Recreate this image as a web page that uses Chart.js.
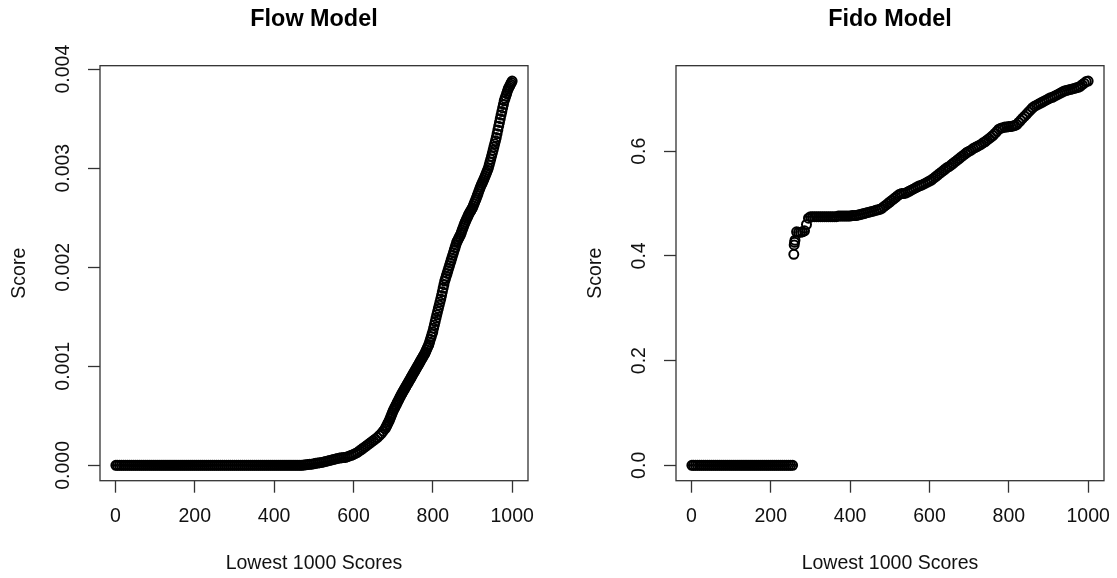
<!DOCTYPE html>
<html><head><meta charset="utf-8">
<script src="https://cdn.jsdelivr.net/npm/chart.js@4.4.1/dist/chart.umd.min.js"></script>
<style>
html,body{margin:0;padding:0;background:#fff;width:1117px;height:578px;overflow:hidden}
canvas{position:absolute;top:0}
#c1{left:0}
#c2{left:558px}
</style></head><body>
<canvas id="c1" width="558" height="578"></canvas>
<canvas id="c2" width="559" height="578"></canvas>
<script>
const flowRank = [
1,5,10,15,20,25,30,35,40,45,50,55,60,65,70,75,80,85,90,95,
100,105,110,115,120,125,130,135,140,145,150,155,160,165,170,175,180,185,190,195,
200,205,210,215,220,225,230,235,240,245,250,255,260,265,270,275,280,285,290,295,
300,305,310,315,320,325,330,335,340,345,350,355,360,365,370,375,380,385,390,395,
400,405,410,415,420,425,430,435,440,445,450,455,460,465,470,475,480,485,490,495,
500,505,510,515,520,525,530,535,540,545,550,555,560,565,570,575,580,585,590,595,
600,605,610,615,620,625,630,635,640,645,650,655,660,665,670,675,
680,682,684,686,688,690,692,694,696,698,700,702,704,706,708,710,712,714,716,718,
720,722,724,726,728,730,732,734,736,738,740,742,744,746,748,750,752,754,756,758,
760,762,764,766,768,770,772,774,776,778,780,782,784,786,788,790,792,794,796,798,
800,802,804,806,808,810,812,814,816,818,820,822,824,826,828,830,832,834,836,838,
840,842,844,846,848,850,852,854,856,858,860,862,864,866,868,870,872,874,876,878,
880,882,884,886,888,890,892,894,896,898,900,902,904,906,908,910,912,914,916,918,
920,922,924,926,928,930,932,934,936,938,940,942,944,946,948,950,952,954,956,958,
960,962,964,966,968,970,972,974,976,978,980,982,984,986,988,990,992,994,996,998,
1000];
const flowScore = [
0,0,0,0,0,0,0,0,0,0,0,0,0,0,0,0,0,0,0,0,
0,0,0,0,0,0,0,0,0,0,0,0,0,0,0,0,0,0,0,0,
0,0,0,0,0,0,0,0,0,0,0,0,0,0,0,0,0,0,0,0,
0,0,0,0,0,0,0,0,0,0,0,0,0,0,0,0,0,0,0,0,
0,0,0,0,0,0,0,0,0,0,0,0,0,0,0,0.000003,0.000005,0.000008,0.00001,0.000012,
0.000015,0.00002,0.000023,0.000027,0.00003,0.000035,0.00004,0.000045,0.00005,0.000055,0.00006,0.000065,0.00007,0.000073,0.000076,0.000078,0.00008,0.000087,0.000095,0.000102,
0.00011,0.00012,0.00013,0.000145,0.00016,0.000175,0.00019,0.000205,0.00022,0.000235,0.00025,0.000265,0.00028,0.0003,0.00032,0.000345,
0.00037,0.000386,0.000402,0.000418,0.000434,0.00045,0.00047,0.00049,0.00051,0.00053,0.00055,0.000566,0.000582,0.000598,0.000614,0.00063,0.000646,0.000662,0.000678,0.000694,
0.00071,0.000724,0.000738,0.000752,0.000766,0.00078,0.000794,0.000808,0.000822,0.000836,0.00085,0.000864,0.000878,0.000892,0.000906,0.00092,0.000934,0.000948,0.000962,0.000976,
0.00099,0.001004,0.001018,0.001032,0.001046,0.00106,0.001074,0.001088,0.001102,0.001116,0.00113,0.001148,0.001166,0.001184,0.001202,0.00122,0.001246,0.001272,0.001298,0.001324,
0.00135,0.001384,0.001418,0.001452,0.001486,0.00152,0.001552,0.001584,0.001616,0.001648,0.00168,0.001716,0.001752,0.001788,0.001824,0.00186,0.001886,0.001912,0.001938,0.001964,
0.00199,0.002016,0.002042,0.002068,0.002094,0.00212,0.002146,0.002172,0.002198,0.002224,0.00225,0.002266,0.002282,0.002298,0.002314,0.00233,0.002352,0.002374,0.002396,0.002418,
0.00244,0.002458,0.002476,0.002494,0.002512,0.00253,0.002544,0.002558,0.002572,0.002586,0.0026,0.00262,0.00264,0.00266,0.00268,0.0027,0.002722,0.002744,0.002766,0.002788,
0.00281,0.002828,0.002846,0.002864,0.002882,0.0029,0.00292,0.00294,0.00296,0.00298,0.003,0.00303,0.00306,0.00309,0.00312,0.00315,0.003182,0.003214,0.003246,0.003278,
0.00331,0.003348,0.003386,0.003424,0.003462,0.0035,0.003536,0.003572,0.003608,0.003644,0.00368,0.003704,0.003728,0.003752,0.003776,0.0038,0.003816,0.003832,0.003848,0.003864,
0.00388];
const fidoRank = [
1,5,10,15,20,25,30,35,40,45,50,55,60,65,70,75,80,85,90,95,
100,105,110,115,120,125,130,135,140,145,150,155,160,165,170,175,180,185,190,195,
200,205,210,215,220,225,230,235,240,245,250,255,258,259,260,261,265,270,275,280,285,290,295,
300,305,310,315,320,325,330,335,340,345,350,355,360,365,370,375,380,385,390,395,
400,405,410,415,420,425,430,435,440,445,450,455,460,465,470,475,480,485,490,495,
500,505,510,515,520,525,530,535,540,545,550,555,560,565,570,575,580,585,590,595,
600,605,610,615,620,625,630,635,640,645,650,655,660,665,670,675,680,685,690,695,
700,705,710,715,720,725,730,735,740,745,750,755,760,765,770,775,780,785,790,795,
800,805,810,815,820,825,830,835,840,845,850,855,860,865,870,875,880,885,890,895,
900,905,910,915,920,925,930,935,940,945,950,955,960,965,970,975,980,985,990,995,
1000];
const fidoScore = [
0,0,0,0,0,0,0,0,0,0,0,0,0,0,0,0,0,0,0,0,
0,0,0,0,0,0,0,0,0,0,0,0,0,0,0,0,0,0,0,0,
0,0,0,0,0,0,0,0,0,0,0,0,0.403,0.421,0.426,0.43,0.446,0.445,0.445,0.446,0.448,0.46,0.472,
0.475,0.475,0.475,0.475,0.475,0.475,0.475,0.475,0.475,0.475,0.475,0.475,0.475,0.475,0.476,0.476,0.476,0.476,0.476,0.476,
0.476,0.477,0.477,0.477,0.478,0.479,0.48,0.481,0.482,0.483,0.484,0.485,0.486,0.487,0.488,0.489,0.491,0.494,0.497,0.5,
0.503,0.506,0.509,0.512,0.515,0.518,0.519,0.519,0.52,0.522,0.524,0.526,0.528,0.53,0.532,0.534,0.535,0.537,0.539,0.541,
0.543,0.545,0.548,0.551,0.554,0.557,0.56,0.563,0.566,0.569,0.571,0.574,0.577,0.58,0.583,0.586,0.589,0.592,0.595,0.598,
0.6,0.602,0.605,0.607,0.609,0.611,0.613,0.616,0.618,0.621,0.624,0.627,0.63,0.634,0.638,0.642,0.644,0.645,0.646,0.646,
0.647,0.647,0.648,0.649,0.651,0.655,0.659,0.663,0.667,0.671,0.675,0.679,0.683,0.686,0.688,0.69,0.692,0.694,0.696,0.698,
0.7,0.702,0.703,0.705,0.707,0.709,0.711,0.713,0.715,0.716,0.717,0.718,0.719,0.72,0.721,0.722,0.724,0.727,0.73,0.733,
0.734];
const xTickValues = [0, 200, 400, 600, 800, 1000];
const flowYTickValues = [0, 0.001, 0.002, 0.003, 0.004];
const flowYTickLabels = ['0.000', '0.001', '0.002', '0.003', '0.004'];
const fidoYTickValues = [0, 0.2, 0.4, 0.6];
const fidoYTickLabels = ['0.0', '0.2', '0.4', '0.6'];
const panelTitles = ['Flow Model', 'Fido Model'];
const xAxisTitle = 'Lowest 1000 Scores';
const yAxisTitle = 'Score';

const FONT = "'Liberation Sans', Arial, Helvetica, sans-serif";
const INK = '#333';

const framePlugin = {
  id: 'frame',
  afterDraw(chart) {
    const {ctx, chartArea: a} = chart;
    ctx.save();
    ctx.strokeStyle = INK;
    ctx.lineWidth = 1.3;
    ctx.strokeRect(a.left, a.top, a.right - a.left, a.bottom - a.top);
    ctx.restore();
  }
};

function makeChart(id, rank, score, title, yMin, yMax, yVals, yLabels, cfg) {
  const pts = rank.map((r, i) => ({x: r, y: score[i]}));
  const gridOpts = {display: true, drawOnChartArea: false, drawTicks: true, tickLength: 12, tickColor: INK, tickWidth: 1.3};
  return new Chart(document.getElementById(id), {
    type: 'scatter',
    data: {datasets: [{data: pts, pointStyle: 'circle', pointRadius: 4.5, pointHoverRadius: 4.5,
      pointBorderWidth: 2, pointBorderColor: '#000', pointBackgroundColor: 'rgba(0,0,0,0)', showLine: false}]},
    options: {
      responsive: false, animation: false, devicePixelRatio: 1,
      layout: {padding: {left: 0, right: cfg.rightPad, top: 0, bottom: 0}},
      plugins: {
        legend: {display: false}, tooltip: {enabled: false},
        title: {display: true, text: title, fullSize: false, color: '#000',
          font: {family: FONT, size: 23.4, weight: 'bold', lineHeight: 1.2},
          padding: {top: 5.5, bottom: 32.1}}
      },
      scales: {
        x: {type: 'linear', position: 'bottom', min: -38.96, max: 1039.96,
          afterBuildTicks: s => { s.ticks = xTickValues.map(v => ({value: v})); },
          afterFit: s => { s.height = 97.3; s.paddingLeft = 0; s.paddingRight = 0; },
          grid: gridOpts, border: {display: false},
          ticks: {color: '#111', font: {family: FONT, size: 19.5}, padding: 12.6, maxRotation: 0, autoSkip: false,
            callback: v => String(v)},
          title: {display: true, text: xAxisTitle, color: '#111', font: {family: FONT, size: 19.5, lineHeight: 1.2},
            padding: {top: 0, bottom: 2.3}}
        },
        y: {type: 'linear', position: 'left', min: yMin, max: yMax,
          afterBuildTicks: s => { s.ticks = yVals.map(v => ({value: v})); },
          afterFit: s => { s.width = cfg.yWidth; s.paddingTop = 0; s.paddingBottom = 0; },
          grid: gridOpts, border: {display: false},
          ticks: {color: '#111', font: {family: FONT, size: 19.5}, padding: cfg.yPad, minRotation: 90, maxRotation: 90,
            crossAlign: 'center', autoSkip: false,
            callback: v => yLabels[yVals.indexOf(v)]},
          title: {display: true, text: yAxisTitle, color: '#111', font: {family: FONT, size: 19.5, lineHeight: 1.2},
            padding: {top: cfg.yTitlePad, bottom: 0}}
        }
      }
    },
    plugins: [framePlugin]
  });
}

makeChart('c1', flowRank, flowScore, panelTitles[0], -0.000155, 0.004035, flowYTickValues, flowYTickLabels,
  {rightPad: 30, yWidth: 100, yPad: 0.1, yTitlePad: 7.6});
makeChart('c2', fidoRank, fidoScore, panelTitles[1], -0.02936, 0.76336, fidoYTickValues, fidoYTickLabels,
  {rightPad: 13, yWidth: 118, yPad: 10.95, yTitlePad: 25.6});
</script>
</body></html>
